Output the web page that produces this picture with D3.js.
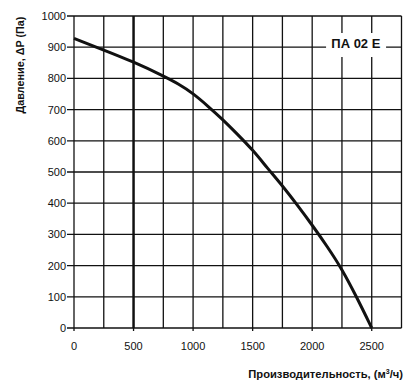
<!DOCTYPE html>
<html><head><meta charset="utf-8">
<script src="https://cdn.jsdelivr.net/npm/d3@7"></script>
<style>body{margin:0;background:#fff}svg{display:block}</style>
</head><body>
<script>
const flow = [0, 250, 500, 750, 875, 1000, 1125, 1250, 1375, 1500, 1625, 1750, 1875, 2000, 2125, 2250, 2375, 2500];
const pressure = [928, 891, 853, 808, 783, 752, 711, 668, 620, 571, 512, 456, 394, 330, 262, 189, 98, 0];
const xTicks = [0, 500, 1000, 1500, 2000, 2500];
const yTicks = [0, 100, 200, 300, 400, 500, 600, 700, 800, 900, 1000];
const xGrid = d3.range(0, 2751, 250);
const markerFlow = 500;
const modelLabel = "ПА 02 Е";
const yTitle = "Давление, ΔP (Па)";

const W = 420, H = 386;
const m = {l: 74, r: 18.5, t: 16, b: 58};
const svg = d3.select("body").append("svg").attr("width", W).attr("height", H)
  .style("font-family", "'Liberation Sans', Arial, sans-serif");
const x = d3.scaleLinear().domain([0, 2750]).range([m.l, W - m.r]);
const y = d3.scaleLinear().domain([0, 1000]).range([H - m.b, m.t]);

const g = svg.append("g");
g.selectAll(".hg").data(yTicks).join("line")
  .attr("x1", x(0) - 7).attr("x2", x(2750))
  .attr("y1", d => y(d)).attr("y2", d => y(d))
  .attr("stroke", "#111").attr("stroke-width", 1.3);
g.selectAll(".vg").data(xGrid).join("line")
  .attr("x1", d => x(d)).attr("x2", d => x(d))
  .attr("y1", y(1000)).attr("y2", d => xTicks.includes(d) ? y(0) + 3 : y(0))
  .attr("stroke", "#111").attr("stroke-width", 1.3);
g.append("line").attr("x1", x(markerFlow)).attr("x2", x(markerFlow))
  .attr("y1", y(1000)).attr("y2", y(0)).attr("stroke", "#111").attr("stroke-width", 2.4);

svg.selectAll(".yl").data(yTicks).join("text")
  .attr("x", x(0) - 8).attr("y", d => y(d) + 4)
  .attr("text-anchor", "end").attr("font-size", 11).attr("fill", "#111").text(d => d);
svg.selectAll(".xl").data(xTicks).join("text")
  .attr("x", d => x(d)).attr("y", y(0) + 22)
  .attr("text-anchor", "middle").attr("font-size", 11).attr("fill", "#111").text(d => d);

const line = d3.line().x((d, i) => x(flow[i])).y(d => y(d)).curve(d3.curveBasis);
svg.append("path").attr("d", line(pressure)).attr("fill", "none")
  .attr("stroke", "#111").attr("stroke-width", 3);

svg.append("rect").attr("x", x(2125) - 1).attr("y", y(1000) + 17).attr("width", 60).attr("height", 24).attr("fill", "#fff");
svg.append("text").attr("x", x(2375) - 1).attr("y", y(900) + 1)
  .attr("text-anchor", "middle").attr("font-size", 13).attr("font-weight", "bold").attr("fill", "#111").text(modelLabel);

const xt = svg.append("text").attr("x", 403).attr("y", 378).attr("text-anchor", "end")
  .attr("font-size", 11.2).attr("font-weight", "bold").attr("fill", "#111");
xt.append("tspan").text("Производительность, (м");
xt.append("tspan").attr("font-size", 7).attr("dy", -4).text("3");
xt.append("tspan").attr("dy", 4).text("/ч)");
svg.append("text").attr("transform", "translate(24,65) rotate(-90)")
  .attr("text-anchor", "middle").attr("font-size", 10.8).attr("font-weight", "bold").attr("fill", "#111").text(yTitle);
</script>
</body></html>
